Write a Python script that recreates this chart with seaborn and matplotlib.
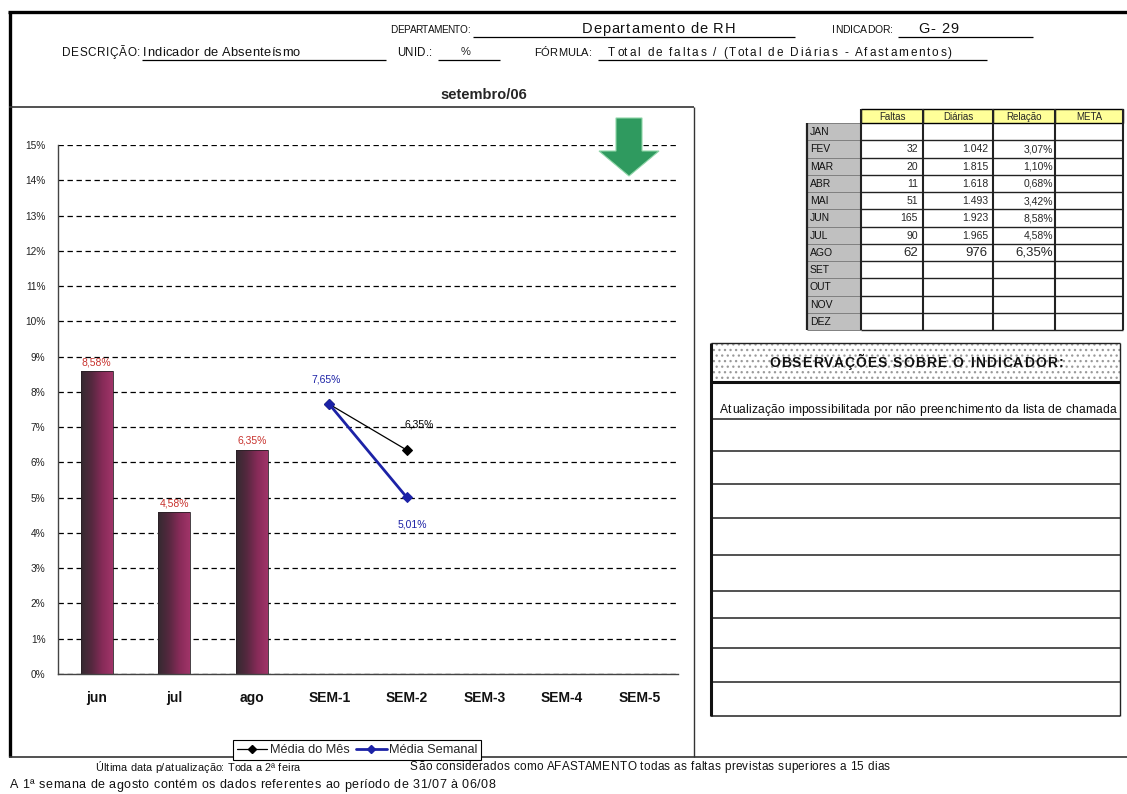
import numpy as np
import pandas as pd
import matplotlib
matplotlib.use("Agg")
import matplotlib.pyplot as plt
from matplotlib.patches import Rectangle, Polygon
from matplotlib.lines import Line2D
from matplotlib.colors import LinearSegmentedColormap
from matplotlib.textpath import TextToPath
from matplotlib.font_manager import FontProperties
import seaborn as sns

# ---- chart data ----
categorias = ["jun", "jul", "ago", "SEM-1", "SEM-2", "SEM-3", "SEM-4", "SEM-5"]
meses_barras = ["jun", "jul", "ago"]
taxa_mensal = [8.58, 4.58, 6.35]
semanas_linha = ["SEM-1", "SEM-2"]
media_mes = [7.65, 6.35]
media_semanal = [7.65, 5.01]

# ---- monthly table ----
meses_tabela = ["JAN", "FEV", "MAR", "ABR", "MAI", "JUN", "JUL", "AGO",
                "SET", "OUT", "NOV", "DEZ"]
faltas = [None, 32, 20, 11, 51, 165, 90, 62, None, None, None, None]
diarias = [None, 1042, 1815, 1618, 1493, 1923, 1965, 976, None, None, None, None]
relacao = [None, 3.07, 1.10, 0.68, 3.42, 8.58, 4.58, 6.35, None, None, None, None]
colunas_tabela = ["Faltas", "Diárias", "Relação", "META"]

observacao = "Atualização impossibilitada por não preenchimento da lista de chamada"

W, H = 1127, 794
sns.set_style("white")
plt.rcParams["font.family"] = ["Liberation Sans", "DejaVu Sans"]
plt.rcParams["hatch.linewidth"] = 0.9

fig = plt.figure(figsize=(W / 100, H / 100), dpi=100)
fig.patch.set_facecolor("white")


def pct(v):
    return f"{v:.2f}".replace(".", ",") + "%"


def milhar(v):
    return f"{v:,}".replace(",", ".")


# ---- chart axes ----
ax = fig.add_axes([58 / W, 1 - 674 / H, 620 / W, 529 / H])
ax.patch.set_alpha(0)

df = pd.DataFrame({"mes": meses_barras, "taxa": taxa_mensal})
sns.barplot(data=df, x="mes", y="taxa", order=categorias, width=0.41,
            color="#6a2a48", edgecolor="#2a2026", linewidth=0.6, ax=ax)

# horizontal gradient fill for the bars
grad_cmap = LinearSegmentedColormap.from_list(
    "barra", ["#342a30", "#55283f", "#862b58", "#a03468"])
grad = np.linspace(0, 1, 64).reshape(1, -1)
for p in list(ax.patches):
    x0, y0, w, h = p.get_x(), p.get_y(), p.get_width(), p.get_height()
    im = ax.imshow(grad, extent=[x0, x0 + w, y0, y0 + h], cmap=grad_cmap,
                   aspect="auto", origin="lower", zorder=p.get_zorder() - 0.05,
                   interpolation="bilinear")
    im.set_clip_path(p)
    p.set_facecolor("none")

pos = [categorias.index(s) for s in semanas_linha]
sns.lineplot(x=pos, y=media_mes, ax=ax, color="black", lw=0.9, marker="D",
             markersize=5, markeredgecolor="black", label="Média do Mês")
sns.lineplot(x=pos, y=media_semanal, ax=ax, color="#1c22a6", lw=2.0, marker="D",
             markersize=5, markeredgecolor="#1c22a6", label="Média Semanal")
if ax.get_legend() is not None:
    ax.get_legend().remove()

ax.set_xlim(-0.5, len(categorias) - 0.5)
ax.set_ylim(0, 15)
ax.set_axisbelow(True)
ax.yaxis.grid(True, linestyle=(0, (4.3, 2.9)), color="black", linewidth=0.9)
ax.xaxis.grid(False)
for s in ["top", "right"]:
    ax.spines[s].set_visible(False)
for s in ["left", "bottom"]:
    ax.spines[s].set_color("#444444")
    ax.spines[s].set_linewidth(1.0)

ax.set_yticks(range(0, 16))
ax.set_yticklabels([f"{i}%" for i in range(0, 16)], fontsize=7.3, color="#222222")
ax.tick_params(axis="y", direction="inout", length=8, width=0.8, color="#444444", pad=5)
ax.set_xticks(range(len(categorias)))
ax.set_xticklabels(categorias, fontsize=10, fontweight="bold", color="#111111")
ax.set_xticks(np.arange(-0.5, len(categorias), 1), minor=True)
ax.tick_params(axis="x", which="major", length=0, pad=12)
ax.tick_params(axis="x", which="minor", direction="out", length=5, width=0.8,
               color="#444444")
ax.set_xlabel("")
ax.set_ylabel("")

for i, v in enumerate(taxa_mensal):
    ax.annotate(pct(v), (categorias.index(meses_barras[i]), v), xytext=(0, 3),
                textcoords="offset points", ha="center", va="bottom",
                color="#c8322d", fontsize=7.5)
ax.annotate(pct(media_semanal[0]), (pos[0], media_semanal[0]), xytext=(-2, 18),
            textcoords="offset points", ha="center", va="center",
            color="#1c22a6", fontsize=7.5)
ax.annotate(pct(media_mes[1]), (pos[1], media_mes[1]), xytext=(9, 18.5),
            textcoords="offset points", ha="center", va="center",
            color="black", fontsize=7.5)
ax.annotate(pct(media_semanal[1]), (pos[1], media_semanal[1]), xytext=(4, -19.5),
            textcoords="offset points", ha="center", va="center",
            color="#1c22a6", fontsize=7.5)

handles = [
    Line2D([], [], color="black", lw=0.9, marker="D", markersize=4),
    Line2D([], [], color="#1c22a6", lw=2.0, marker="D", markersize=4),
]
leg = fig.legend(handles, ["Média do Mês", "Média Semanal"], loc="center",
                 bbox_to_anchor=(357 / W, 1 - 750 / H), ncol=2, frameon=True,
                 fancybox=False, edgecolor="black", framealpha=1, fontsize=9.2,
                 handlelength=2.4, handletextpad=0.2, columnspacing=0.5,
                 borderpad=0.3)
leg.get_frame().set_linewidth(0.8)

# ---- sheet layout (pixel coordinates) ----
ov = fig.add_axes([0, 0, 1, 1], zorder=5)
ov.set_xlim(0, W)
ov.set_ylim(H, 0)
ov.axis("off")
ov.patch.set_alpha(0)

_t2p = TextToPath()


def text_px(s, size, weight="normal"):
    prop = FontProperties(family=["Liberation Sans"], size=size, weight=weight)
    w, _, _ = _t2p.get_text_width_height_descent(s, prop, ismath=False)
    return w * 100 / 72


def spaced(x, y, s, size, width, weight="normal", color="#111111"):
    """Write s starting at x so that it spans `width` pixels (letter spaced)."""
    n = len(s)
    natural = text_px(s, size, weight)
    gap = (width - natural) / max(n - 1, 1)
    wx = text_px("x", size, weight)
    base = y + 0.5 * size
    for k, c in enumerate(s):
        if c == " ":
            continue
        off = (text_px(s[:k] + "x", size, weight) - wx) if k else 0.0
        ov.text(x + off + k * gap, base, c, ha="left", va="baseline",
                fontsize=size, fontweight=weight, color=color)


def hline(x0, x1, y, lw=1.0, color="black"):
    ov.plot([x0, x1], [y, y], color=color, lw=lw, solid_capstyle="butt")


def vline(x, y0, y1, lw=1.0, color="black"):
    ov.plot([x, x], [y0, y1], color=color, lw=lw, solid_capstyle="butt")


# outer frame
hline(8, W, 12, lw=2.4)
vline(9.5, 12, 757, lw=2.4)
hline(9, 694, 107, lw=1.2, color="#333333")
vline(694, 107, 757, lw=1.0, color="#333333")
hline(9, W, 757, lw=1.2, color="#333333")

# header fields
spaced(390, 29, "DEPARTAMENTO:", 7.2, 80)
hline(473, 795, 37, lw=0.9)
spaced(582, 28, "Departamento de RH", 10.5, 153)
spaced(832, 29, "INDICADOR:", 7.5, 61)
hline(898, 1033, 37, lw=0.9)
spaced(918, 28, "G- 29", 10.5, 40)

spaced(62, 52, "DESCRIÇÃO:", 8.5, 78)
spaced(143, 51, "Indicador de Absenteísmo", 9.3, 157)
hline(142, 386, 60, lw=0.9)
spaced(397, 52, "UNID.:", 8.3, 35)
hline(438, 500, 60, lw=0.9)
ov.text(466, 52, "%", ha="center", fontsize=8, va="center")
spaced(534, 52, "FÓRMULA:", 8, 58)
hline(598, 987, 60, lw=0.9)
spaced(608, 52, "Total de faltas / (Total de Diárias - Afastamentos)", 8.5, 344)

ov.text(484, 95, "setembro/06", ha="center", va="center", fontsize=10.5,
        fontweight="bold")

# trend arrow
arrow = Polygon([(616, 118), (642, 118), (642, 151), (659, 151), (629, 176),
                 (599, 151), (616, 151)], closed=True, facecolor="#2f9a5f",
                edgecolor="#8fd6a8", linewidth=0.8)
ov.add_patch(arrow)

# monthly table
col_edges = [807, 861, 923, 993, 1055, 1123]
head_top, head_bot = 109, 123
row_h = 17.25
tab_bot = head_bot + row_h * len(meses_tabela)

for j, nome in enumerate(colunas_tabela):
    x0, x1 = col_edges[j + 1], col_edges[j + 2]
    ov.add_patch(Rectangle((x0, head_top), x1 - x0, head_bot - head_top,
                           facecolor="#ffff99", edgecolor="black", lw=1.0))
    ov.text((x0 + x1) / 2, (head_top + head_bot) / 2 + 0.5, nome, ha="center",
            va="center", fontsize=7)

ov.add_patch(Rectangle((col_edges[0], head_bot), col_edges[1] - col_edges[0],
                       tab_bot - head_bot, facecolor="#c0c0c0", edgecolor="none"))
for i, m in enumerate(meses_tabela):
    y0 = head_bot + i * row_h
    yc = y0 + row_h / 2
    hline(col_edges[0], col_edges[1], y0 + row_h, lw=0.7, color="#808080")
    hline(col_edges[1], col_edges[5], y0 + row_h, lw=1.0, color="#222222")
    ov.text(col_edges[0] + 3, yc + 0.5, m, ha="left", va="center", fontsize=7.5,
            color="#111111")
    big = (m == "AGO")
    fs = 9.5 if big else 7.5
    if faltas[i] is not None:
        ov.text(col_edges[2] - 5, yc + 0.5, str(faltas[i]), ha="right",
                va="center", fontsize=fs)
    if diarias[i] is not None:
        ov.text(col_edges[3] - 5, yc + 0.5, milhar(diarias[i]), ha="right",
                va="center", fontsize=fs)
    if relacao[i] is not None:
        ov.text(col_edges[4] - 2, yc + 0.5, pct(relacao[i]), ha="right",
                va="center", fontsize=fs)
hline(col_edges[0], col_edges[1], head_bot, lw=0.7, color="#808080")
vline(col_edges[0], head_bot, tab_bot, lw=1.6, color="#222222")
for x in col_edges[1:]:
    vline(x, head_top, tab_bot, lw=1.5, color="#222222")

# observations box
obs_l, obs_r, obs_t, obs_h = 711, 1120, 343, 382
ov.add_patch(Rectangle((obs_l, obs_t), obs_r - obs_l, obs_h - obs_t,
                       facecolor="white", edgecolor="#9a9a9a", hatch="...",
                       linewidth=0))
spaced(769, 362, "OBSERVAÇÕES SOBRE O INDICADOR:", 10, 294, weight="bold")
hline(obs_l, obs_r, obs_t, lw=1.0, color="#222222")
hline(obs_l, obs_r, obs_h, lw=2.2, color="#111111")
spaced(720, 409, observacao, 8.7, 396)
for y in [419, 451, 484, 518, 555, 591, 618, 648, 682, 716]:
    hline(obs_l, obs_r, y, lw=1.1, color="#222222")
vline(obs_l, obs_t, 716, lw=2.2, color="#111111")
vline(obs_r, obs_t, 716, lw=1.0, color="#222222")

# footer notes
spaced(95, 767, "Última data p/atualização: Toda a 2ª feira", 7.8, 205)
spaced(410, 766, "São considerados como AFASTAMENTO todas as faltas previstas "
       "superiores a 15 dias", 8.5, 480)
spaced(10, 784, "A 1ª semana de agosto contém os dados referentes ao período "
       "de 31/07 à 06/08", 9, 485)

fig.savefig("out.png", dpi=100, facecolor="white")
